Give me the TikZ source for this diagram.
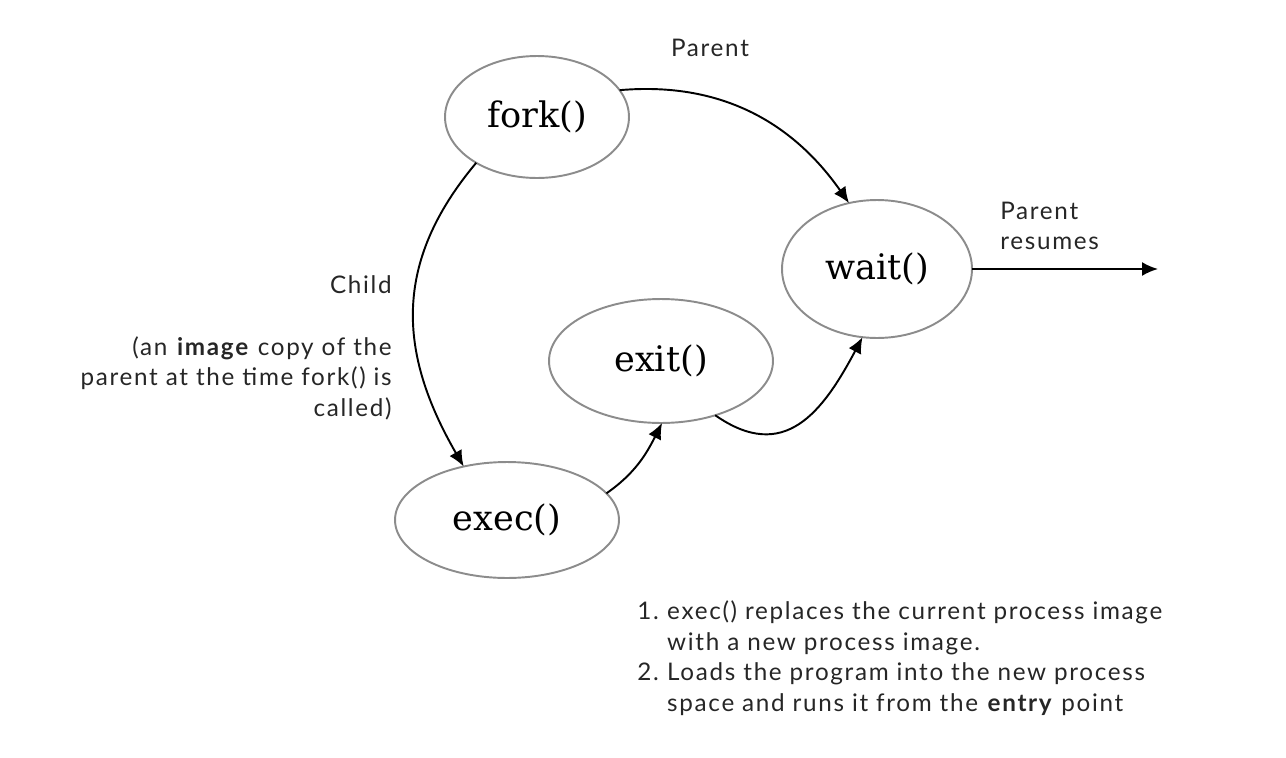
\documentclass[tikz,border=0pt]{standalone}
\usepackage{fontspec}
\setmainfont{Lato}[LetterSpace=7]
\newfontfamily\callfont{DejaVu Serif}
\usetikzlibrary{shapes.geometric,arrows.meta}
\definecolor{rim}{HTML}{8C8C8C}
\definecolor{ink}{HTML}{262626}
\begin{document}
\begin{tikzpicture}[
    x=0.02cm,y=0.02cm,
    call/.style={ellipse,draw=rim,line width=1.1pt,inner sep=0pt,outer sep=0pt,
      text=black,font=\callfont\fontsize{20}{24}\selectfont},
    flow/.style={-{Latex[length=3.2mm,width=2.8mm]},line width=1.1pt,black},
    note/.style={inner sep=0pt,text=ink,font=\fontsize{13.8}{17.4}\selectfont},
  ]
  \useasboundingbox (0,0) rectangle (1286,-758);
  \node[call,minimum width=3.68cm,minimum height=2.44cm] (fork) at (537,-117) {fork()};
  \node[call,minimum width=3.80cm,minimum height=2.76cm] (wait) at (877,-269) {wait()};
  \node[call,minimum width=4.48cm,minimum height=2.48cm] (exit) at (661,-361) {exit()};
  \node[call,minimum width=4.48cm,minimum height=2.32cm] (exec) at (507,-520) {exec()};
  \coordinate (resumed) at (1158,-269);
  \draw[flow] (fork.18) to[out=5,in=125] (wait.113);
  \draw[flow] (fork.-143) to[out=-130,in=120,looseness=1.1] (exec.129);
  \draw[flow] (exec.15) to[out=35,in=-117] (exit.-89);
  \draw[flow] (exit.-45) to[out=-35,in=-118,looseness=1.3] (wait.-102);
  \draw[flow] (wait.east) -- (resumed);
  \node[note] (parent) at (710,-48) {Parent};
  \node[note,anchor=west,align=left] (resume) at (1000,-226) {Parent\\resumes};
  \node[note,anchor=east] (child) at (392,-285) {Child};
  \node[note,anchor=east,align=right] (copy) at (392,-378)
    {(an \textbf{image} copy of the\\parent at the time fork() is\\called)};
  \node[note,anchor=west,align=left] (steps) at (637,-658)
    {\makebox[17pt][l]{1.}exec() replaces the current process image\\
     \hspace*{17pt}with a new process image.\\
     \makebox[17pt][l]{2.}Loads the program into the new process\\
     \hspace*{17pt}space and runs it from the \textbf{entry} point};
\end{tikzpicture}
\end{document}
